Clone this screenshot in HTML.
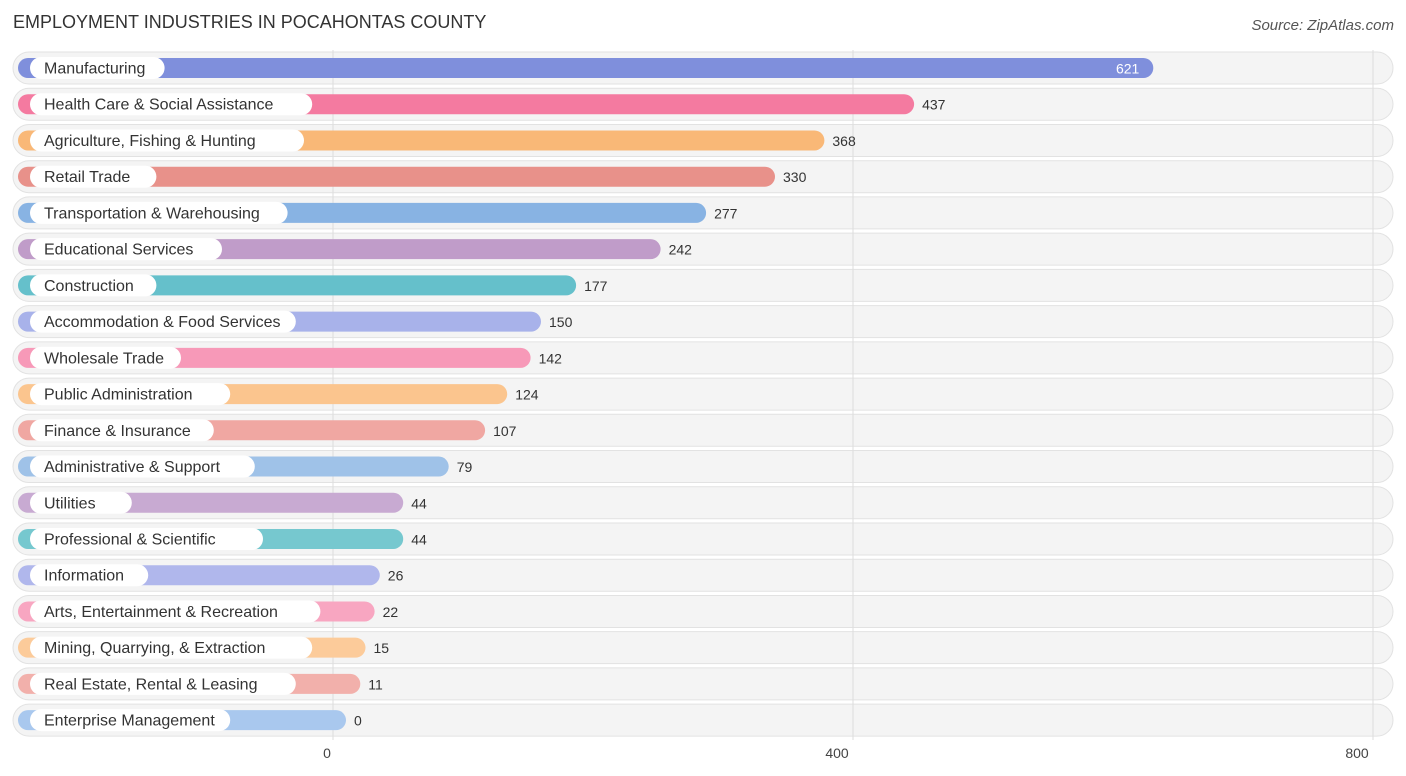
<!DOCTYPE html>
<html><head><meta charset="utf-8"><style>
body{margin:0;background:#fff;font-family:"Liberation Sans",Arial,sans-serif;}
svg{display:block}
</style></head><body>
<svg id="c" width="1406" height="776">
<text x="13" y="28" font-size="18" fill="#333">EMPLOYMENT INDUSTRIES IN POCAHONTAS COUNTY</text>
<text x="1394" y="30" font-size="15" fill="#555" font-style="italic" text-anchor="end">Source: ZipAtlas.com</text>
<g id="grid"></g><g id="rows"></g><g id="ticks"></g>
</svg>
<script>
const categories=["Manufacturing","Health Care & Social Assistance","Agriculture, Fishing & Hunting","Retail Trade","Transportation & Warehousing","Educational Services","Construction","Accommodation & Food Services","Wholesale Trade","Public Administration","Finance & Insurance","Administrative & Support","Utilities","Professional & Scientific","Information","Arts, Entertainment & Recreation","Mining, Quarrying, & Extraction","Real Estate, Rental & Leasing","Enterprise Management"];
const values=[621,437,368,330,277,242,177,150,142,124,107,79,44,44,26,22,15,11,0];
const colors=["#7f8fdc","#f47aa0","#f9b877","#e8918a","#88b3e3","#c09cc9","#65c0cb","#a8b2ea","#f799b8","#fbc58e","#f0a7a2","#9fc2e8","#c8aad2","#76c8cf","#b0b7ec","#f8a6c1","#fccb9a","#f2b0ab","#a9c8ee"];
const ticks=[0,400,800];
const NS="http://www.w3.org/2000/svg";
const X0=333,S=1.3,barX0=346,Y0=68,DY=36.23;
const gx=v=>X0+v*S, bx=v=>barX0+v*S, ry=i=>Y0+i*DY;
function el(t,a,p){const e=document.createElementNS(NS,t);for(const k in a)e.setAttribute(k,a[k]);p.appendChild(e);return e;}
const grid=document.getElementById('grid'),rows=document.getElementById('rows'),tk=document.getElementById('ticks');
categories.forEach((c,i)=>{
 const y=ry(i);
 const bg=el('rect',{x:13,y:y-16,width:1380,height:32,rx:16,fill:'#f4f4f4',stroke:'#e2e2e2','stroke-width':1},rows);
 
 
});
ticks.forEach(t=>{
 const l=el('line',{x1:gx(t),x2:gx(t),y1:50,y2:740,stroke:'#ddd','stroke-width':1},grid);
 
 
 const tx=el('text',{x:gx(t)-(t===0?6:t===800?16:16),y:758,'font-size':14,fill:'#444','text-anchor':'middle'},tk);
 tx.textContent=t;
 
 
});
rows.parentNode.appendChild(grid);
const bars=el('g',{},rows.parentNode);
categories.forEach((c,i)=>{
 const y=ry(i),end=bx(values[i]);
 const b=el('rect',{x:18,y:y-10,width:end-18,height:20,rx:10,fill:colors[i]},bars);
 
 
 const w=c.length*8.2+28;
 const p=el('rect',{x:30,y:y-11,width:w,height:22,rx:11,fill:'#fff'},bars);
 
 
 const t=el('text',{x:44,y:y+5.5,'font-size':16,fill:'#333'},bars);
 t.textContent=c;
 
 
 const inside=i===0;
 const v=el('text',{x:inside?end-14:end+8,y:y+5.5,'font-size':14,fill:inside?'#fff':'#333','text-anchor':inside?'end':'start'},bars);
 v.textContent=values[i];
 
 
});
</script>
</body></html>
